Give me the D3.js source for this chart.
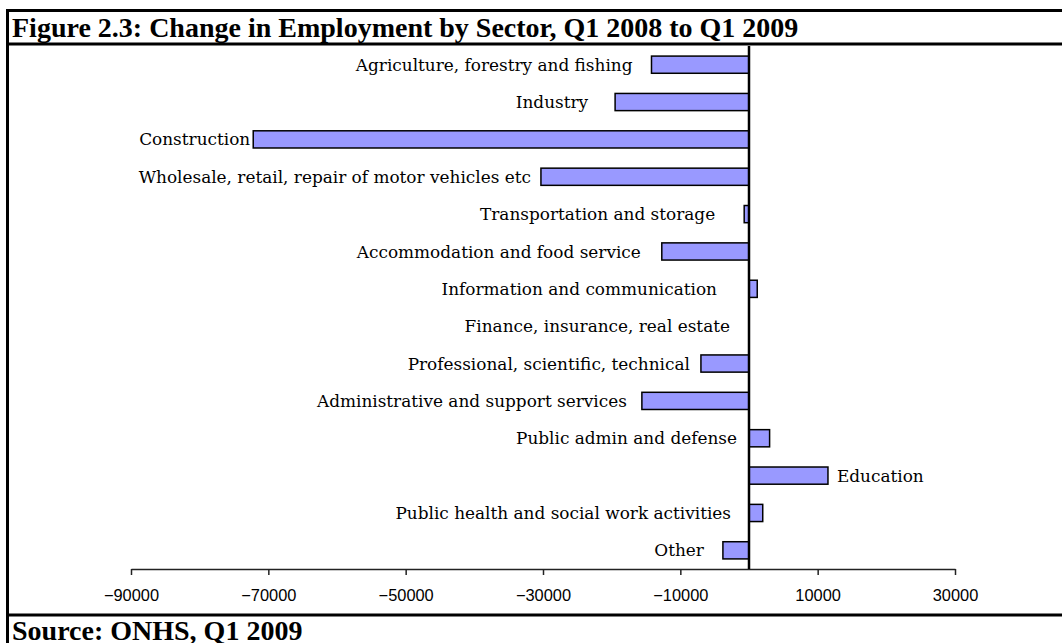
<!DOCTYPE html>
<html>
<head>
<meta charset="utf-8">
<script src="https://cdn.jsdelivr.net/npm/d3@7"></script>
<style>
  html, body { margin: 0; padding: 0; background: #fff; }
  svg { display: block; }
</style>
</head>
<body>
<svg id="chart" width="1062" height="643"></svg>
<script>
// Sectors, top to bottom
const categories = [
  "Agriculture, forestry and fishing",
  "Industry",
  "Construction",
  "Wholesale, retail, repair of motor vehicles etc",
  "Transportation and storage",
  "Accommodation and food service",
  "Information and communication",
  "Finance, insurance, real estate",
  "Professional, scientific, technical",
  "Administrative and support services",
  "Public admin and defense",
  "Education",
  "Public health and social work activities",
  "Other"
];

// Change in employment (persons), Q1 2008 to Q1 2009
const changes = [
  -14200, -19500, -72200, -30300, -700, -12700, 1200,
  0, -7000, -15600, 3000, 11500, 2000, -3800
];

// Axis tick values
const tickValues = [-90000, -70000, -50000, -30000, -10000, 10000, 30000];

const titleText = "Figure 2.3: Change in Employment by Sector, Q1 2008 to Q1 2009";
const sourceText = "Source: ONHS, Q1 2009";

// ---- layout ----
const W = 1062, H = 643;
const plot = { left: 131, right: 955, top: 46, bottom: 569 };
// gap between a label and the end of its bar (or the zero line)
const labelGap = [19, 27, 3, 10, 29, 21, 32, 19, 11, 15, 12, 9, 18, 19];
const rightSide = new Set(["Education"]);

const svg = d3.select("#chart");

const x = d3.scaleLinear()
  .domain([-90000, 30000])
  .range([plot.left, plot.right]);

const y = d3.scaleBand()
  .domain(categories)
  .range([plot.top, plot.bottom])
  .paddingInner(0.54)
  .paddingOuter(0.27);

const rows = categories.map((c, i) => ({ cat: c, value: changes[i], gap: labelGap[i] }));

// frame
const frame = svg.append("g").attr("stroke", "#000").attr("stroke-width", 3);
frame.append("line").attr("x1", 7).attr("x2", W + 5).attr("y1", 10.5).attr("y2", 10.5);
frame.append("line").attr("x1", 7).attr("x2", W + 5).attr("y1", 44).attr("y2", 44);
frame.append("line").attr("x1", 7).attr("x2", W + 5).attr("y1", 615).attr("y2", 615);
frame.append("line").attr("x1", 7.5).attr("x2", 7.5).attr("y1", 9).attr("y2", H + 5);

// title and source
svg.append("text")
  .attr("x", 12).attr("y", 37)
  .attr("font-family", "'Liberation Serif', 'Times New Roman', serif")
  .attr("font-weight", "bold")
  .attr("font-size", 28)
  .attr("fill", "#000")
  .text(titleText);

svg.append("text")
  .attr("x", 12).attr("y", 640)
  .attr("font-family", "'Liberation Serif', 'Times New Roman', serif")
  .attr("font-weight", "bold")
  .attr("font-size", 28)
  .attr("fill", "#000")
  .text(sourceText);

// x axis
const xAxis = d3.axisBottom(x)
  .tickValues(tickValues)
  .tickSize(6)
  .tickSizeOuter(0)
  .tickFormat(d3.format("d"));

const gx = svg.append("g")
  .attr("transform", `translate(0,${plot.bottom})`)
  .call(xAxis);
gx.select(".domain").attr("stroke", "#222").attr("stroke-width", 1.5);
gx.selectAll(".tick line").attr("stroke", "#222").attr("stroke-width", 1.5);
gx.selectAll(".tick text")
  .attr("font-family", "'Liberation Sans', Arial, sans-serif")
  .attr("font-size", 16.4)
  .attr("fill", "#000")
  .attr("y", 20)
  .attr("dy", "0.71em");

// bars
svg.append("g")
  .selectAll("rect")
  .data(rows.filter(d => d.value !== 0))
  .join("rect")
  .attr("x", d => x(Math.min(0, d.value)))
  .attr("width", d => Math.abs(x(d.value) - x(0)))
  .attr("y", d => y(d.cat))
  .attr("height", y.bandwidth())
  .attr("fill", "#9999ff")
  .attr("stroke", "#000")
  .attr("stroke-width", 1.5);

// zero line
svg.append("line")
  .attr("x1", x(0)).attr("x2", x(0))
  .attr("y1", plot.top).attr("y2", plot.bottom)
  .attr("stroke", "#000")
  .attr("stroke-width", 2.5);

// category labels
svg.append("g")
  .selectAll("text")
  .data(rows)
  .join("text")
  .attr("font-family", "'DejaVu Serif', serif")
  .attr("font-size", 16.9)
  .attr("fill", "#000")
  .attr("y", d => y(d.cat) + y.bandwidth() / 2)
  .attr("dy", "0.36em")
  .attr("x", d => rightSide.has(d.cat)
    ? x(Math.max(0, d.value)) + d.gap
    : x(Math.min(0, d.value)) - d.gap)
  .attr("text-anchor", d => rightSide.has(d.cat) ? "start" : "end")
  .text(d => d.cat);
</script>
</body>
</html>
